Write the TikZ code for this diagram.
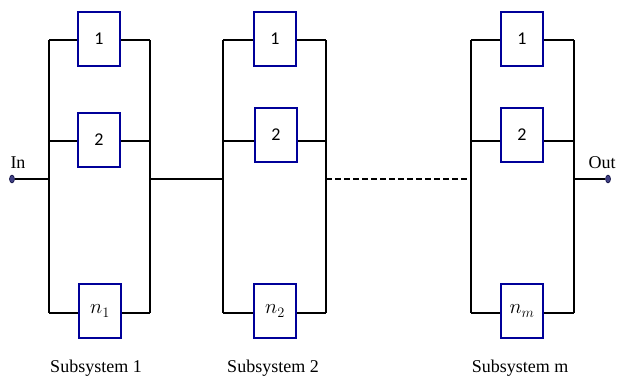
\documentclass[tikz,border=0pt]{standalone}
\usepackage{fontspec}
\usetikzlibrary{shapes.geometric}
\setmainfont{Liberation Serif}
\newfontfamily\boxfont{Carlito}
\begin{document}
\begin{tikzpicture}[x=1pt,y=-1pt,
  wire/.style={draw=black,line width=1.8pt},
  comp/.style={draw=blue!60!black,line width=1.8pt,fill=white,minimum width=42pt,minimum height=54pt,inner sep=0pt,font=\boxfont\fontsize{18}{21}\selectfont},
  mcomp/.style={comp,font=\fontsize{21}{24}\selectfont},
  term/.style={ellipse,fill=blue!35!black!75,draw=blue!20!black,line width=0.5pt,minimum width=5pt,minimum height=8pt,inner sep=0pt},
  lab/.style={font=\fontsize{18}{21}\selectfont,inner sep=0pt}]
\useasboundingbox (0,0) rectangle (620,378);
% coordinates
\foreach \n/\l/\r in {a/49/150,b/223/326,c/471/574}{
  \coordinate (\n tl) at (\l,40);
  \coordinate (\n tr) at (\r,40);
  \coordinate (\n ml) at (\l,141);
  \coordinate (\n mr) at (\r,141);
  \coordinate (\n cl) at (\l,179);
  \coordinate (\n cr) at (\r,179);
  \coordinate (\n bl) at (\l,313);
  \coordinate (\n br) at (\r,313);
}
% wires of subsystems
\foreach \n in {a,b,c}{
  \draw[wire] (\n tl) -- (\n bl);
  \draw[wire] (\n tr) -- (\n br);
  \draw[wire] (\n tl) -- (\n tr);
  \draw[wire] (\n ml) -- (\n mr);
  \draw[wire] (\n bl) -- (\n br);
}
% components
\node[comp] (a1) at (99,39) {1};
\node[comp] (a2) at (99,140) {2};
\node[mcomp] (an) at (100,311) {$n_1$};
\node[comp] (b1) at (275,39) {1};
\node[comp] (b2) at (276,135) {2};
\node[mcomp] (bn) at (275,311) {$n_2$};
\node[comp] (c1) at (522,39) {1};
\node[comp] (c2) at (522,135) {2};
\node[mcomp] (cn) at (522,311) {$n_m$};
% terminals
\node[term] (in) at (12,179) {};
\node[term] (out) at (608,179) {};
\node[lab,anchor=south] at (18,169) {In};
\node[lab,anchor=south] at (602,169) {Out};
\draw[wire] (in) -- (acl);
\draw[wire] (acr) -- (bcl);
\draw[wire,dashed,dash pattern=on 6pt off 3pt] (bcr) -- (ccl);
\draw[wire] (ccr) -- (out);
% labels
\node[lab] (s1) at (96,368) {Subsystem 1};
\node[lab] (s2) at (273,368) {Subsystem 2};
\node[lab] (sm) at (520,368) {Subsystem m};
\end{tikzpicture}
\end{document}
